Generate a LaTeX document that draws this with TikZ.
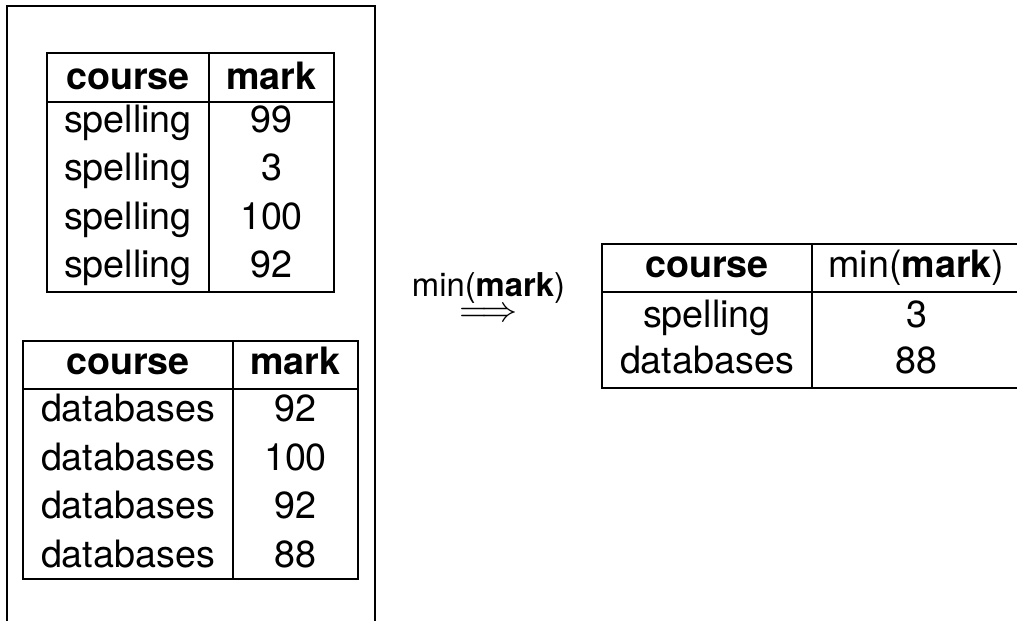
\documentclass[tikz,border=0pt]{standalone}
\usepackage{fontspec}
\usepackage{graphicx}
\setmainfont{TeX Gyre Heros}
\tikzset{
  tab/.style={line width=1.6pt, line cap=rect},
  frame/.style={line width=1.5pt},
  cell/.style={anchor=base, inner sep=0pt, font=\fontsize{37.7}{45}\selectfont},
  hcell/.style={cell, font=\fontsize{37.7}{45}\selectfont\bfseries},
  lbl/.style={anchor=base, inner sep=0pt, font=\fontsize{32.8}{38}\selectfont},
}
\begin{document}
\begin{tikzpicture}[x=1pt,y=-1pt]
\useasboundingbox (0,0) rectangle (1017,621);
% outer frame (cut off at the bottom)
\draw[frame] (7,621) -- (7,6) -- (375,6) -- (375,621);

% table 1
\draw[tab] (47,53) rectangle (334,292);
\draw[tab] (47,102) -- (334,102);
\draw[tab] (209,53) -- (209,292);
\node[hcell] (t1h1) at (128,89.5) {course};
\node[hcell] (t1h2) at (271.5,89.5) {mark};
\node[cell] (t1a1) at (128,132) {spelling};
\node[cell] (t1b1) at (271.5,132) {99};
\node[cell] (t1a2) at (128,180.5) {spelling};
\node[cell] (t1b2) at (271.5,180.5) {3};
\node[cell] (t1a3) at (128,229) {spelling};
\node[cell] (t1b3) at (271.5,229) {100};
\node[cell] (t1a4) at (128,277) {spelling};
\node[cell] (t1b4) at (271.5,277) {92};

% table 2
\draw[tab] (23,341) rectangle (358,579);
\draw[tab] (23,389) -- (358,389);
\draw[tab] (233,341) -- (233,579);
\node[hcell] (t2h1) at (128,374) {course};
\node[hcell] (t2h2) at (295.5,374) {mark};
\node[cell] (t2a1) at (128,421) {databases};
\node[cell] (t2b1) at (295.5,421) {92};
\node[cell] (t2a2) at (128,470) {databases};
\node[cell] (t2b2) at (295.5,470) {100};
\node[cell] (t2a3) at (128,518) {databases};
\node[cell] (t2b3) at (295.5,518) {92};
\node[cell] (t2a4) at (128,567) {databases};
\node[cell] (t2b4) at (295.5,567) {88};

% arrow with label
\node[lbl] (alab) at (488.5,296) {min(\textbf{mark})};
\node[inner sep=0pt] (arr) at (488,314.5) {\scalebox{3.6}{$\Longrightarrow$}};

% result table (cut off at the right)
\draw[tab] (1017,244) -- (602,244) -- (602,388) -- (1017,388);
\draw[tab] (602,292) -- (1017,292);
\draw[tab] (812,244) -- (812,388);
\node[hcell] (t3h1) at (707,277) {course};
\node[cell] (t3h2) at (916.5,277) {min(\textbf{mark})};
\node[cell] (t3a1) at (707,327) {spelling};
\node[cell] (t3b1) at (916.5,327) {3};
\node[cell] (t3a2) at (707,373.5) {databases};
\node[cell] (t3b2) at (916.5,373.5) {88};
\end{tikzpicture}
\end{document}
